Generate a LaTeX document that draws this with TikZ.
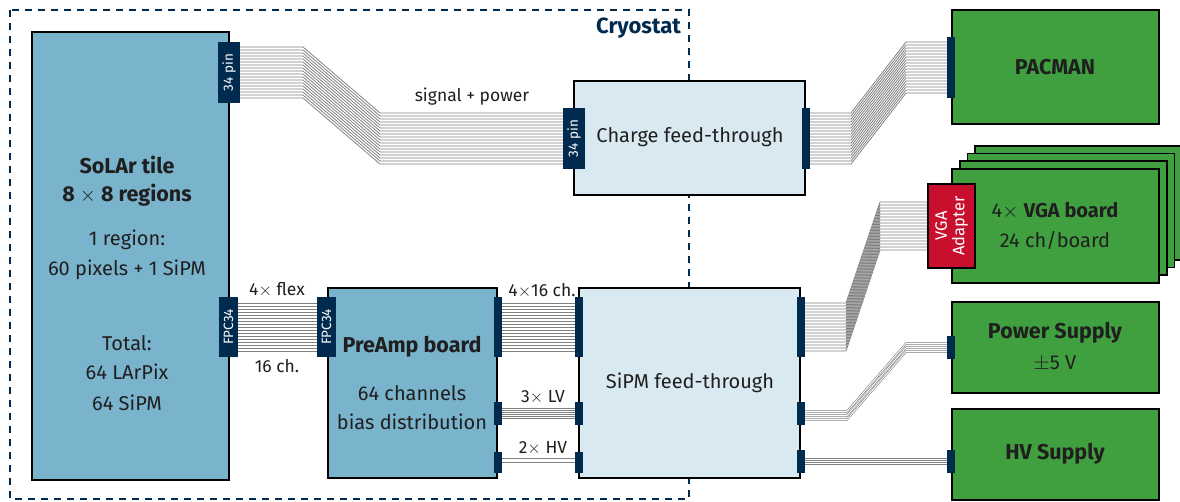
\documentclass[tikz,border=0pt]{standalone}
\usepackage{fontspec}
\setmainfont{Fira Sans}
\usetikzlibrary{calc}
\definecolor{tileblue}{RGB}{122,179,204}
\definecolor{ftblue}{RGB}{217,233,241}
\definecolor{boardgreen}{RGB}{64,160,64}
\definecolor{navy}{RGB}{0,43,79}
\definecolor{adred}{RGB}{200,16,46}
\definecolor{wiregray}{RGB}{128,128,128}
\pgfdeclarelayer{bg}
\pgfsetlayers{bg,main}
\begin{document}
\begin{tikzpicture}[x=1pt,y=-1pt,
 box/.style={draw=black, line width=1.6pt, inner sep=0pt},
 tilebox/.style={box, fill=tileblue},
 ftbox/.style={box, fill=ftblue},
 greenbox/.style={box, fill=boardgreen},
 adbox/.style={box, fill=adred},
 conn/.style={fill=navy, inner sep=0pt, minimum width=8pt},
 connlbl/.style={text=white, font=\fontsize{13.5}{14}\selectfont, rotate=90, inner sep=0pt},
 adlbl/.style={text=white, font=\fontsize{16.5}{17.5}\selectfont, rotate=90, inner sep=0pt, align=center},
 wire/.style={draw=wiregray, line width=0.8pt},
 dwire/.style={draw=wiregray, line width=0.6pt, double=white, double distance=0.9pt},
 txt/.style={font=\fontsize{20}{22}\selectfont, text=black!88, inner sep=0pt},
 btxt/.style={font=\fontsize{21.5}{22}\selectfont\bfseries, text=black!88, inner sep=0pt},
 clbl/.style={font=\fontsize{17.5}{18}\selectfont, text=black!88, inner sep=0pt},
 cryo/.style={draw=navy, line width=1.8pt, dash pattern=on 7pt off 6pt},
]
\useasboundingbox (0,0) rectangle (1180,502);

% boxes
\node[tilebox, minimum width=197pt, minimum height=448pt] (tile) at (130.5,256) {};
\node[ftbox, minimum width=231pt, minimum height=114pt] (charge) at (689.5,138) {};
\node[ftbox, minimum width=221pt, minimum height=190pt] (sipm) at (689.5,383) {};
\node[tilebox, minimum width=169pt, minimum height=190pt] (preamp) at (412.5,383) {};
\node[greenbox, minimum width=207pt, minimum height=114pt] (pacman) at (1055.5,67) {};
\node[greenbox, minimum width=207pt, minimum height=114pt] (vga4) at (1078.6,202.9) {};
\node[greenbox, minimum width=207pt, minimum height=114pt] (vga3) at (1070.9,210.6) {};
\node[greenbox, minimum width=207pt, minimum height=114pt] (vga2) at (1063.2,218.3) {};
\node[greenbox, minimum width=207pt, minimum height=114pt] (vga1) at (1055.5,226) {};
\node[adbox, minimum width=47pt, minimum height=84pt, label={[adlbl]center:{VGA\\Adapter}}] (adp) at (951.5,226) {};
\node[greenbox, minimum width=207pt, minimum height=91pt] (power) at (1055.5,347.5) {};
\node[greenbox, minimum width=207pt, minimum height=91pt] (hv) at (1055.5,454.5) {};

% connectors
\node[conn, minimum width=22pt, minimum height=61pt, label={[connlbl]center:34 pin}] (tp) at (229,72.5) {};
\node[conn, minimum width=19pt, minimum height=60pt, label={[connlbl]center:FPC34}] (tf) at (228.5,327) {};
\node[conn, minimum width=19pt, minimum height=60pt, label={[connlbl]center:FPC34}] (pf) at (326.5,327) {};
\node[conn, minimum width=22pt, minimum height=61pt, label={[connlbl]center:34 pin}] (cl) at (574,138.5) {};
\node[conn, minimum height=61pt] (cr) at (806,138.5) {};
\node[conn, minimum height=61pt] (pc) at (951,67.5) {};
\node[conn, minimum height=60pt] (pr1) at (498,327) {};
\node[conn, minimum height=23pt] (pr2) at (498,413.5) {};
\node[conn, minimum height=21pt] (pr3) at (498,462) {};
\node[conn, minimum height=60pt] (sl1) at (579,327) {};
\node[conn, minimum height=23pt] (sl2) at (579,413.5) {};
\node[conn, minimum height=21pt] (sl3) at (579,462) {};
\node[conn, minimum height=60pt] (sr1) at (801,327) {};
\node[conn, minimum height=23pt] (sr2) at (801,413.5) {};
\node[conn, minimum height=23pt] (sr3) at (801,461.5) {};
\node[conn, minimum height=23pt] (psc) at (951,347.5) {};
\node[conn, minimum height=23pt] (hvc) at (951,461.5) {};

% bend coordinates
\coordinate (rb1) at (303,0);
\coordinate (rb2) at (380,0);
\coordinate (rb3) at (851,0);
\coordinate (rb4) at (906,0);
\coordinate (rb5) at (846,0);
\coordinate (rb6) at (880,0);
\coordinate (rb7) at (847,0);
\coordinate (rb8) at (906,0);

% cables
\foreach \i in {0,...,17} {
  \draw[wire] ($(tp.east)+(0,\i*3-25.5)$) -- ($(tp.east -| rb1)+(0,\i*3-25.5)$) -- ($(cl.west -| rb2)+(0,\i*3-25.5)$) -- ($(cl.west)+(0,\i*3-25.5)$);
  \draw[wire] ($(cr.east)+(0,\i*3-25.5)$) -- ($(cr.east -| rb3)+(0,\i*3-25.5)$) -- ($(pc.west -| rb4)+(0,\i*3-25.5)$) -- ($(pc.west)+(0,\i*3-25.5)$);
}
\foreach \i in {0,...,16} {
  \draw[wire] ($(sr1.east)+(0,\i*3-24)$) -- ($(sr1.east -| rb5)+(0,\i*3-24)$) -- ($(adp.west -| rb6)+(0,\i*3-24)$) -- ($(adp.west)+(0,\i*3-24)$);
  \draw[wire] ($(tf.east)+(0,\i*3-24)$) -- ($(pf.west)+(0,\i*3-24)$);
  \draw[wire] ($(pr1.east)+(0,\i*3-24)$) -- ($(sl1.west)+(0,\i*3-24)$);
}
\foreach \o in {-4,0,4} {
  \draw[dwire] ($(pr2.east)+(0,\o)$) -- ($(sl2.west)+(0,\o)$);
  \draw[dwire] ($(sr2.east)+(0,\o+2)$) -- ($(sr2.east -| rb7)+(0,\o+2)$) -- ($(psc.west -| rb8)+(0,\o)$) -- ($(psc.west)+(0,\o)$);
}
\foreach \o in {-2,2} {
  \draw[dwire] ($(pr3.east)+(0,\o-1)$) -- ($(sl3.west)+(0,\o-1)$);
  \draw[dwire] ($(sr3.east)+(0,\o)$) -- ($(hvc.west)+(0,\o)$);
}

% cryostat
\begin{pgfonlayer}{bg}
\draw[cryo] (10,10) rectangle (689,499);
\end{pgfonlayer}
\node[font=\fontsize{22}{24}\selectfont\bfseries, text=navy, inner sep=0pt, anchor=east] (cryot) at (681,28) {Cryostat};

% texts
\node[btxt] (t1) at (127,165) {SoLAr tile};
\node[btxt] (t2) at (127,195) {8 $\times$ 8 regions};
\node[txt] (t3) at (127,240) {1 region:};
\node[txt] (t4) at (127,270) {60 pixels + 1 SiPM};
\node[txt] (t5) at (127,343) {Total:};
\node[txt] (t6) at (127,372) {64 LArPix};
\node[txt] (t7) at (127,403) {64 SiPM};

\node[txt] (chg) at (690,137) {Charge feed-through};
\node[txt] (sft) at (690,383) {SiPM feed-through};
\node[btxt] (pam) at (1055,67) {PACMAN};
\node[txt] (vt1) at (1055,211) {4$\times$ \textbf{VGA board}};
\node[txt] (vt2) at (1055,240) {24 ch/board};
\node[btxt] (pst1) at (1055,333) {Power Supply};
\node[txt] (pst2) at (1055,363) {$\pm$5 V};
\node[btxt] (hvt) at (1055,454) {HV Supply};
\node[btxt] (pa1) at (412,347) {PreAmp board};
\node[txt] (pa2) at (412,393) {64 channels};
\node[txt] (pa3) at (412,422) {bias distribution};

\node[clbl] (l1) at (472,97) {signal + power};
\node[clbl] (l2) at (277,290) {4$\times$ flex};
\node[clbl] (l3) at (277,366) {16 ch.};
\node[clbl] (l4) at (542,291) {4$\times$16 ch.};
\node[clbl] (l5) at (543,397) {3$\times$ LV};
\node[clbl] (l6) at (543,448) {2$\times$ HV};
\end{tikzpicture}
\end{document}
